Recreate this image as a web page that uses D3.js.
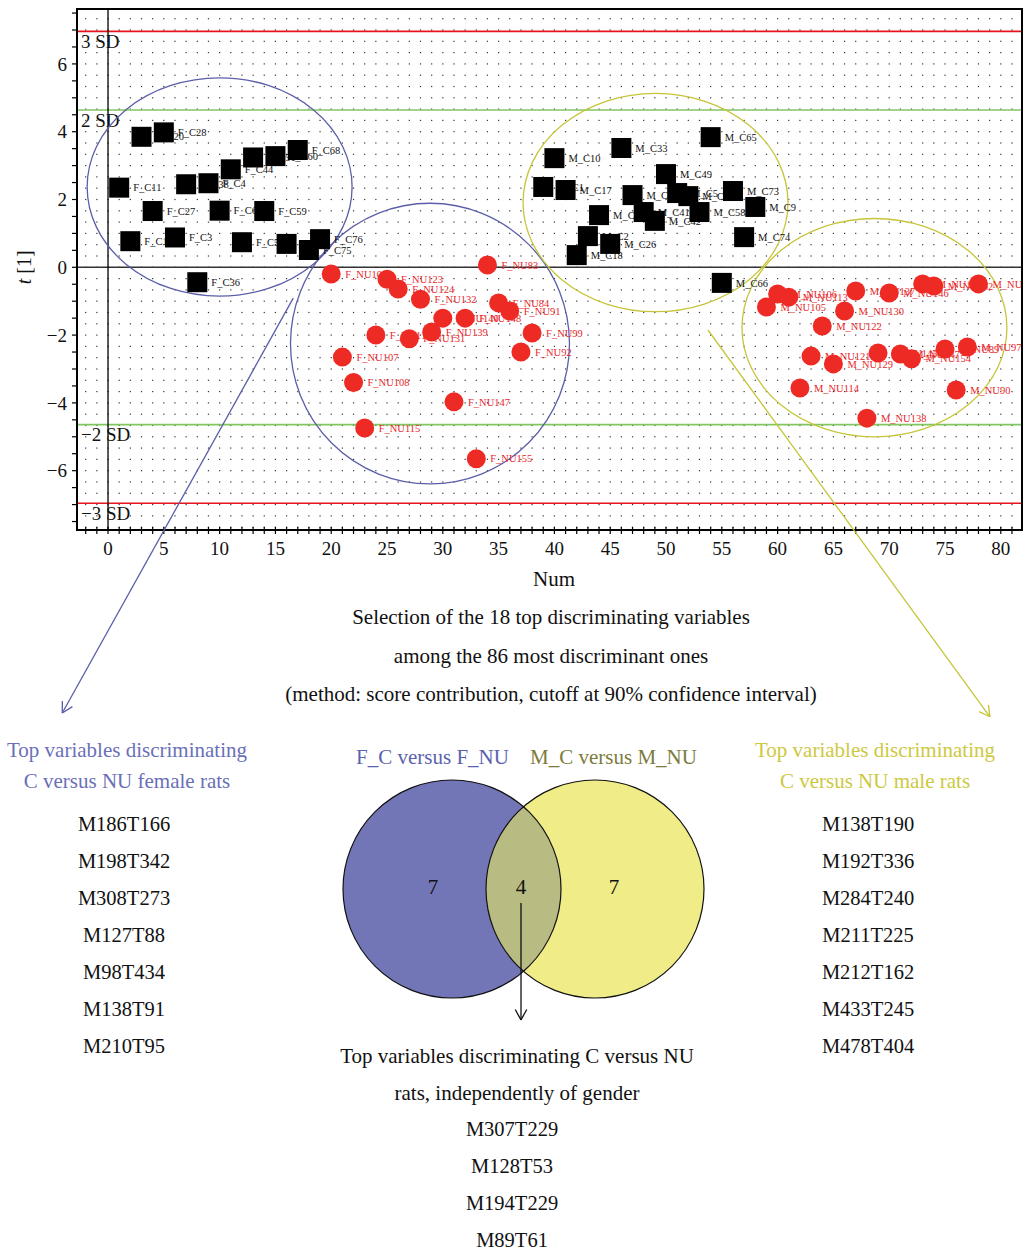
<!DOCTYPE html>
<html><head><meta charset="utf-8">
<script src="https://cdn.jsdelivr.net/npm/d3@7"></script>
<style>
body{margin:0;background:#fff}
svg{display:block}
text{font-family:"Liberation Serif","Times New Roman",serif}
</style>
</head><body><div id="chart"></div>
<script>
// ---------------- data ----------------
const fcNames = ["F_C11","F_C12","F_C20","F_C27","F_C28","F_C3","F_C38","F_C36","F_C4","F_C6","F_C44","F_C5","F_C51","F_C59","F_C60","F_C67","F_C68","F_C75","F_C76"];
const fcNum   = [1,2,3,4,5,6,7,8,9,10,11,12,13,14,15,16,17,18,19];
const fcT     = [2.35,0.77,3.85,1.66,3.98,0.88,2.45,-0.44,2.48,1.67,2.89,0.74,3.24,1.66,3.28,0.69,3.46,0.51,0.83];

const fnuNames = ["F_NU101","F_NU107","F_NU108","F_NU115","F_NU117","F_NU123","F_NU124","F_NU131","F_NU132","F_NU139","F_NU140","F_NU147","F_NU148","F_NU155","F_NU83","F_NU84","F_NU91","F_NU92","F_NU99"];
const fnuNum   = [20,21,22,23,24,25,26,27,28,29,30,31,32,33,34,35,36,37,38];
const fnuT     = [-0.2,-2.65,-3.4,-4.74,-2.0,-0.35,-0.64,-2.11,-0.94,-1.91,-1.5,-3.97,-1.5,-5.65,0.07,-1.05,-1.29,-2.5,-1.94];

const mcNames = ["M_C1","M_C10","M_C17","M_C18","M_C2","M_C19","M_C26","M_C33","M_C34","M_C41","M_C42","M_C49","M_C5","M_C50","M_C58","M_C65","M_C66","M_C73","M_C74","M_C9"];
const mcNum   = [39,40,41,42,43,44,45,46,47,48,49,50,51,52,53,54,55,56,57,58];
const mcT     = [2.37,3.22,2.28,0.36,0.92,1.54,0.69,3.52,2.13,1.63,1.37,2.75,2.19,2.1,1.63,3.84,-0.46,2.25,0.89,1.78];

const mnuNames = ["M_NU105","M_NU106","M_NU113","M_NU114","M_NU121","M_NU122","M_NU129","M_NU130","M_NU137","M_NU138","M_NU145","M_NU146","M_NU147","M_NU154","M_NU161","M_NU162","M_NU89","M_NU90","M_NU97","M_NU98"];
const mnuNum   = [59,60,61,62,63,64,65,66,67,68,69,70,71,72,73,74,75,76,77,78];
const mnuT     = [-1.17,-0.79,-0.88,-3.56,-2.62,-1.73,-2.85,-1.29,-0.7,-4.45,-2.53,-0.76,-2.56,-2.7,-0.49,-0.55,-2.41,-3.62,-2.35,-0.49];

const xTicks = [0,5,10,15,20,25,30,35,40,45,50,55,60,65,70,75,80];
const yTicks = [-6,-4,-2,0,2,4,6];
const sdValue = 2.32;
const sdLevels = [3,2,-2,-3];
const sdLabels = ["3 SD","2 SD","\u22122 SD","\u22123 SD"];

// confidence ellipses (data units)
const ellGroup = ["F","F","M","M"];
const ellCx = [10.0,28.85,49.06,68.68];
const ellCy = [2.37,-2.25,1.91,-1.78];
const ellRx = [11.87,12.5,11.87,11.87];
const ellRy = [3.22,4.14,3.22,3.22];

// pointer arrows (data units, extending outside the plot)
const blueArrow = [[16.6,-0.91],[-4.1,-13.15]];
const yellowArrow = [[53.76,-1.85],[79.03,-13.26]];

const titleLines = ["Selection of the 18 top discriminating variables","among the 86 most discriminant ones","(method: score contribution, cutoff at 90% confidence interval)"];
const femaleHeading = ["Top variables discriminating","C versus NU female rats"];
const femaleVars = ["M186T166","M198T342","M308T273","M127T88","M98T434","M138T91","M210T95"];
const maleHeading = ["Top variables discriminating","C versus NU male rats"];
const maleVars = ["M138T190","M192T336","M284T240","M211T225","M212T162","M433T245","M478T404"];
const vennSets = ["F_C versus F_NU","M_C versus M_NU"];
const vennCounts = [7,4,7];
const commonHeading = ["Top variables discriminating C versus NU","rats, independently of gender"];
const commonVars = ["M307T229","M128T53","M194T229","M89T61"];

// ---------------- drawing ----------------
const W = 1026, H = 1252;
const svg = d3.select("#chart").append("svg").attr("width", W).attr("height", H);
const L = 77, R = 1022, T = 9, B = 530;
const x = d3.scaleLinear().domain([-2.78, 81.9]).range([L, R]);
const y = d3.scaleLinear().domain([7.62, -7.75]).range([T, B]);

const blue = "#5b5ea8", yellow = "#c6c53a", red = "#ee2a24";

svg.append("defs").append("clipPath").attr("id","plotclip")
  .append("rect").attr("x",L).attr("y",T).attr("width",R-L).attr("height",B-T);
const plot = svg.append("g").attr("clip-path","url(#plotclip)");

// dotted grid
const gridPts = [];
for (let xi = -2; xi <= 81; xi++) for (let k = -23; k <= 22; k++) gridPts.push([xi, k/3]);
plot.append("g").selectAll("rect").data(gridPts).join("rect")
  .attr("x", d => x(d[0]) - 0.6).attr("y", d => y(d[1]) - 0.6)
  .attr("width", 1.2).attr("height", 1.2).attr("fill", "#333");

// SD lines
plot.selectAll("line.sd").data(sdLevels).join("line").attr("class","sd")
  .attr("x1", L).attr("x2", R)
  .attr("y1", d => y(d*sdValue)).attr("y2", d => y(d*sdValue))
  .attr("stroke", d => Math.abs(d) === 3 ? "#e8141b" : "#82c660").attr("stroke-width", 1.6);

// zero lines
plot.append("line").attr("x1", L).attr("x2", R).attr("y1", y(0)).attr("y2", y(0))
  .attr("stroke", "#333").attr("stroke-width", 1.6);
plot.append("line").attr("x1", x(0)).attr("x2", x(0)).attr("y1", T).attr("y2", B)
  .attr("stroke", "#000").attr("stroke-width", 1.3);

// SD labels
plot.selectAll("text.sdl").data(sdLevels).join("text").attr("class","sdl")
  .attr("x", L + 4).attr("y", d => y(d*sdValue) + 10)
  .attr("dy","0.35em").attr("font-size", 19).attr("fill","#111")
  .text((d,i) => sdLabels[i]);

// ellipses
plot.selectAll("ellipse").data(ellCx).join("ellipse")
  .attr("cx", (d,i) => x(ellCx[i])).attr("cy", (d,i) => y(ellCy[i]))
  .attr("rx", (d,i) => x(ellRx[i]) - x(0)).attr("ry", (d,i) => y(0) - y(ellRy[i]))
  .attr("fill","none").attr("stroke", (d,i) => ellGroup[i] === "F" ? blue : yellow).attr("stroke-width", 1.3);

// points
const pts = [];
fcNames.forEach((n,i) => pts.push({name:n, num:fcNum[i], t:fcT[i], type:"C"}));
fnuNames.forEach((n,i) => pts.push({name:n, num:fnuNum[i], t:fnuT[i], type:"NU"}));
mcNames.forEach((n,i) => pts.push({name:n, num:mcNum[i], t:mcT[i], type:"C"}));
mnuNames.forEach((n,i) => pts.push({name:n, num:mnuNum[i], t:mnuT[i], type:"NU"}));
pts.sort((a,b) => a.num - b.num);

const pg = plot.append("g");
pts.forEach(p => {
  const cx = x(p.num), cy = y(p.t);
  if (p.type === "C") {
    pg.append("rect").attr("x", cx - 10).attr("y", cy - 10).attr("width", 20).attr("height", 20).attr("fill", "#000");
  } else {
    pg.append("circle").attr("cx", cx).attr("cy", cy).attr("r", 9.5).attr("fill", red);
  }
  pg.append("text").attr("x", cx + 14).attr("y", cy).attr("dy", "0.35em")
    .attr("font-size", 10.5).attr("fill", p.type === "C" ? "#111" : "#e8262a").text(p.name);
});

// frame
svg.append("rect").attr("x", L).attr("y", T).attr("width", R-L).attr("height", B-T)
  .attr("fill","none").attr("stroke","#000").attr("stroke-width", 2);

// axes ticks
const xMinor = d3.range(-2, 82, 1);
svg.append("g").selectAll("line").data(xMinor).join("line")
  .attr("x1", d => x(d)).attr("x2", d => x(d)).attr("y1", B - 3).attr("y2", B + 4)
  .attr("stroke","#000").attr("stroke-width", 1.2);
svg.append("g").selectAll("text").data(xTicks).join("text")
  .attr("x", d => x(d)).attr("y", 548).attr("dy","0.35em").attr("text-anchor","middle")
  .attr("font-size", 19).attr("fill","#111").text(d => d);

const yMinor = d3.range(-15, 16).map(k => k/2).filter(v => v >= -7.7 && v <= 7.6);
svg.append("g").selectAll("line").data(yMinor).join("line")
  .attr("x1", L - 5).attr("x2", L).attr("y1", d => y(d)).attr("y2", d => y(d))
  .attr("stroke","#000").attr("stroke-width", 1.2);
svg.append("g").selectAll("text").data(yTicks).join("text")
  .attr("x", L - 10).attr("y", d => y(d)).attr("dy","0.35em").attr("text-anchor","end")
  .attr("font-size", 19).attr("fill","#111").text(d => d < 0 ? "\u2212" + Math.abs(d) : d);

// axis titles
const yl = svg.append("text").attr("transform", `translate(31,${y(0)}) rotate(-90)`)
  .attr("text-anchor","middle").attr("font-size", 20).attr("fill","#111");
yl.append("tspan").attr("font-style","italic").text("t");
yl.append("tspan").text(" [1]");
svg.append("text").attr("x", 554).attr("y", 579).attr("dy","0.35em").attr("text-anchor","middle")
  .attr("font-size", 21).attr("fill","#111").text("Num");

// title lines
svg.selectAll("text.title").data(titleLines).join("text").attr("class","title")
  .attr("x", 551).attr("y", (d,i) => 617 + i*38.5).attr("dy","0.35em").attr("text-anchor","middle")
  .attr("font-size", 21).attr("fill","#111").text(d => d);

// pointer arrows
function arrow(pts2, color, sw) {
  const p0 = [x(pts2[0][0]), y(pts2[0][1])], p1 = [x(pts2[1][0]), y(pts2[1][1])];
  svg.append("line").attr("x1", p0[0]).attr("y1", p0[1]).attr("x2", p1[0]).attr("y2", p1[1])
    .attr("stroke", color).attr("stroke-width", sw);
  arrowHead(p0, p1, color, sw);
}
function arrowHead(p0, p1, color, sw) {
  const ang = Math.atan2(p0[1]-p1[1], p0[0]-p1[0]);
  const len = 12, spread = 0.5;
  [ang - spread, ang + spread].forEach(a => {
    svg.append("line").attr("x1", p1[0]).attr("y1", p1[1])
      .attr("x2", p1[0] + len*Math.cos(a)).attr("y2", p1[1] + len*Math.sin(a))
      .attr("stroke", color).attr("stroke-width", sw);
  });
}
arrow(blueArrow, blue, 1.3);
arrow(yellowArrow, yellow, 1.3);

// side lists
svg.selectAll("text.fh").data(femaleHeading).join("text").attr("class","fh")
  .attr("x", 127).attr("y", (d,i) => 750 + i*31).attr("dy","0.35em").attr("text-anchor","middle")
  .attr("font-size", 21).attr("fill","#6a6fb8").text(d => d);
svg.selectAll("text.fv").data(femaleVars).join("text").attr("class","fv")
  .attr("x", 124).attr("y", (d,i) => 824 + i*37).attr("dy","0.35em").attr("text-anchor","middle")
  .attr("font-size", 20.5).attr("fill","#111").text(d => d);
svg.selectAll("text.mh").data(maleHeading).join("text").attr("class","mh")
  .attr("x", 875).attr("y", (d,i) => 750 + i*31).attr("dy","0.35em").attr("text-anchor","middle")
  .attr("font-size", 21).attr("fill","#cdc93f").text(d => d);
svg.selectAll("text.mv").data(maleVars).join("text").attr("class","mv")
  .attr("x", 868).attr("y", (d,i) => 824 + i*37).attr("dy","0.35em").attr("text-anchor","middle")
  .attr("font-size", 20.5).attr("fill","#111").text(d => d);

// Venn diagram
const vr = 109, vcy = 889, vcxA = 452, vcxB = 595;
const vg = svg.append("g");
vg.append("defs").append("clipPath").attr("id","clipB").append("circle").attr("cx", vcxB).attr("cy", vcy).attr("r", vr);
vg.append("circle").attr("cx", vcxA).attr("cy", vcy).attr("r", vr).attr("fill", "#7276b7");
vg.append("circle").attr("cx", vcxB).attr("cy", vcy).attr("r", vr).attr("fill", "#f0ec88");
vg.append("circle").attr("cx", vcxA).attr("cy", vcy).attr("r", vr).attr("fill", "#b8bb82").attr("clip-path","url(#clipB)");
vg.append("circle").attr("cx", vcxA).attr("cy", vcy).attr("r", vr).attr("fill", "none").attr("stroke","#111").attr("stroke-width",1.2);
vg.append("circle").attr("cx", vcxB).attr("cy", vcy).attr("r", vr).attr("fill", "none").attr("stroke","#111").attr("stroke-width",1.2);
const countX = [433, 521, 614];
vg.selectAll("text.cnt").data(vennCounts).join("text").attr("class","cnt")
  .attr("x", (d,i) => countX[i]).attr("y", 887).attr("dy","0.35em").attr("text-anchor","middle")
  .attr("font-size", 21).attr("fill","#111").text(d => d);
const setX = [432.5, 613.5], setCol = ["#5b62ae", "#7c7b3c"];
vg.selectAll("text.set").data(vennSets).join("text").attr("class","set")
  .attr("x", (d,i) => setX[i]).attr("y", 757).attr("dy","0.35em").attr("text-anchor","middle")
  .attr("font-size", 21).attr("fill", (d,i) => setCol[i]).text(d => d);
vg.append("line").attr("x1", 521).attr("y1", 903).attr("x2", 521).attr("y2", 1020).attr("stroke","#111").attr("stroke-width",1.3);
arrowHead([521,903],[521,1020],"#111",1.3);

// common list
svg.selectAll("text.ch").data(commonHeading).join("text").attr("class","ch")
  .attr("x", 517).attr("y", (d,i) => 1056 + i*37).attr("dy","0.35em").attr("text-anchor","middle")
  .attr("font-size", 21).attr("fill","#111").text(d => d);
svg.selectAll("text.cv").data(commonVars).join("text").attr("class","cv")
  .attr("x", 512).attr("y", (d,i) => 1129 + i*37).attr("dy","0.35em").attr("text-anchor","middle")
  .attr("font-size", 20.5).attr("fill","#111").text(d => d);
</script>
</body></html>
